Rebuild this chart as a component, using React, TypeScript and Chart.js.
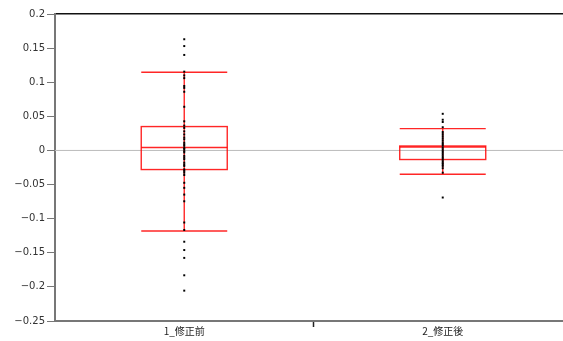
import React, { useEffect, useRef } from "react";
import { Chart, registerables } from "chart.js";

Chart.register(...registerables);

const categories = ["1_修正前", "2_修正後"];
const q1 = [-0.028, -0.0133];
const q3 = [0.035, 0.0065];
const median = [0.0043, 0.005];
const whiskerLow = [-0.118, -0.035];
const whiskerHigh = [0.1147, 0.032];

const pointsBefore = [
  0.163, 0.153, 0.14, 0.1155, 0.11, 0.106, 0.0945, 0.0917, 0.086, 0.064, 0.0427, 0.0364,
  0.033, 0.028, 0.0235, 0.019, 0.0163, 0.0115, 0.009, 0.0068, 0.0035, 0.0019, -0.001,
  -0.003, -0.0079, -0.0105, -0.0129, -0.0178, -0.0205, -0.0227, -0.0277, -0.03, -0.0326,
  -0.036, -0.0474, -0.0548, -0.0647, -0.0745, -0.1056, -0.1166, -0.1338, -0.146, -0.1575,
  -0.183, -0.2055,
];
const pointsAfter = [
  0.0537, 0.045, 0.0417, 0.034, 0.027, 0.024, 0.021, 0.018, 0.015, 0.012, 0.0095, 0.007,
  0.004, 0.0015, -0.001, -0.0035, -0.006, -0.0085, -0.011, -0.0135, -0.016, -0.0185,
  -0.0205, -0.0227, -0.026, -0.0326, -0.069,
];

const yTicks = [0.2, 0.15, 0.1, 0.05, 0, -0.05, -0.1, -0.15, -0.2, -0.25];

const boxPlugin = {
  id: "boxPlugin",
  beforeDatasetsDraw(chart: any) {
    const { ctx, chartArea, scales } = chart;
    const xs = scales.x;
    const ys = scales.y;
    ctx.save();
    ctx.strokeStyle = "#bbbbbb";
    ctx.lineWidth = 1;
    const y0 = ys.getPixelForValue(0);
    ctx.beginPath();
    ctx.moveTo(chartArea.left, y0);
    ctx.lineTo(chartArea.right, y0);
    ctx.stroke();

    const half = 43;
    ctx.strokeStyle = "rgba(255,0,0,0.85)";
    ctx.lineWidth = 1.4;
    categories.forEach((_, i) => {
      const cx = xs.getPixelForValue(i + 1);
      const pq1 = ys.getPixelForValue(q1[i]);
      const pq3 = ys.getPixelForValue(q3[i]);
      const pm = ys.getPixelForValue(median[i]);
      const pl = ys.getPixelForValue(whiskerLow[i]);
      const ph = ys.getPixelForValue(whiskerHigh[i]);
      ctx.beginPath();
      ctx.moveTo(cx, ph);
      ctx.lineTo(cx, pl);
      ctx.moveTo(cx - half, ph);
      ctx.lineTo(cx + half, ph);
      ctx.moveTo(cx - half, pl);
      ctx.lineTo(cx + half, pl);
      ctx.moveTo(cx - half, pm);
      ctx.lineTo(cx + half, pm);
      ctx.stroke();
      ctx.strokeRect(cx - half, pq3, half * 2, pq1 - pq3);
    });
    ctx.restore();
  },
};

export default function App() {
  const ref = useRef<HTMLCanvasElement>(null);
  useEffect(() => {
    document.body.style.margin = "0";
    const canvas = ref.current;
    if (!canvas) return;
    const chart = new Chart(canvas, {
      type: "scatter",
      data: {
        datasets: [
          {
            data: pointsBefore.map((v) => ({ x: 1, y: v })),
            backgroundColor: "#000",
            borderColor: "#000",
            pointStyle: "rect",
            pointRadius: 1.4,
            borderWidth: 0,
          },
          {
            data: pointsAfter.map((v) => ({ x: 2, y: v })),
            backgroundColor: "#000",
            borderColor: "#000",
            pointStyle: "rect",
            pointRadius: 1.4,
            borderWidth: 0,
          },
        ],
      },
      options: {
        animation: false,
        responsive: false,
        maintainAspectRatio: false,
        layout: { padding: 0 },
        plugins: { legend: { display: false }, tooltip: { enabled: false } },
        scales: {
          x: {
            type: "linear",
            position: "bottom",
            min: 0.5,
            max: 2.473,
            afterBuildTicks: (s: any) => {
              s.ticks = [{ value: 1 }, { value: 1.5 }, { value: 2 }];
            },
            afterFit: (s: any) => {
              s.height = 20;
            },
            ticks: {
              autoSkip: false,
              maxRotation: 0,
              padding: -2,
              color: "#222",
              font: { family: "'Noto Sans CJK JP'", size: 10 },
              callback: (v: any) => (v === 1 ? categories[0] : v === 2 ? categories[1] : ""),
            },
            grid: {
              drawOnChartArea: false,
              tickLength: 6,
              tickWidth: 1.5,
              tickColor: (c: any) => (c.tick && c.tick.value === 1.5 ? "#222" : "rgba(0,0,0,0)"),
            },
            border: { color: "#777", width: 2 },
          },
          x2: {
            type: "linear",
            position: "top",
            min: 0,
            max: 1,
            afterFit: (s: any) => {
              s.height = 14;
            },
            ticks: { display: false },
            grid: { display: false },
            border: { display: true, color: "#111", width: 1.5 },
          },
          y: {
            type: "linear",
            min: -0.25,
            max: 0.2,
            afterBuildTicks: (s: any) => {
              s.ticks = yTicks.map((v) => ({ value: v }));
            },
            afterFit: (s: any) => {
              s.width = 55;
            },
            ticks: {
              padding: 2,
              color: "#333",
              font: { family: "'DejaVu Sans'", size: 10 },
              callback: (v: any) => {
                const r = Math.round(Number(v) * 100) / 100;
                return String(r).replace("-", "\u2212");
              },
            },
            grid: {
              drawOnChartArea: false,
              tickLength: 8,
              tickColor: "#777",
            },
            border: { color: "#777", width: 2 },
          },
        },
      },
      plugins: [boxPlugin],
    });
    return () => chart.destroy();
  }, []);
  return (
    <div style={{ width: 563, height: 341, overflow: "hidden", background: "#fff" }}>
      <canvas ref={ref} width={569} height={341} style={{ display: "block" }} />
    </div>
  );
}
